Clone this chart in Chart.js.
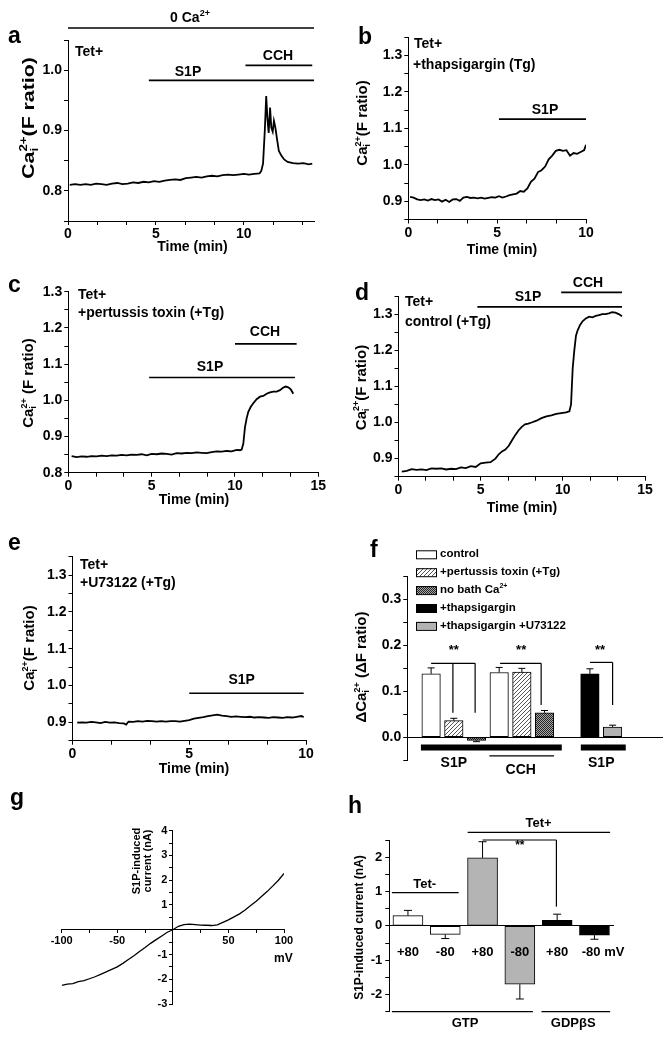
<!DOCTYPE html>
<html>
<head>
<meta charset="utf-8">
<title>S1P calcium and current figure</title>
<script src="https://cdn.jsdelivr.net/npm/chart.js@4.4.1/dist/chart.umd.min.js"></script>
<style>
  body { margin: 0; background: #fff; }
  #fig { position: relative; width: 664px; height: 1041px; overflow: hidden; background: #fff; }
  #fig canvas { position: absolute; }
</style>
</head>
<body>
<div id="fig"></div>
<script>
// ---------- values ----------

// a: Tet+, 0 Ca2+ bath, S1P then CCH
const timeA = [0.1, 0.4, 0.7, 1.0, 1.3, 1.6, 1.9, 2.2, 2.5, 2.8,
  3.1, 3.4, 3.7, 4.0, 4.3, 4.6, 4.9, 5.2, 5.5, 5.8,
  6.1, 6.4, 6.7, 7.0, 7.3, 7.6, 7.9, 8.2, 8.5, 8.8,
  9.1, 9.4, 9.7, 10.0, 10.3, 10.6, 10.9, 11.0, 11.1, 11.2,
  11.28, 11.35, 11.42, 11.5, 11.57, 11.65, 11.72, 11.8, 11.9, 12.0,
  12.15, 12.3, 12.5, 12.8, 13.1, 13.4, 13.7, 13.9];
const ratioA = [0.810, 0.811, 0.810, 0.811, 0.810, 0.812, 0.811, 0.810, 0.812, 0.813,
  0.811, 0.812, 0.814, 0.813, 0.815, 0.814, 0.816, 0.815, 0.817, 0.818,
  0.819, 0.818, 0.821, 0.822, 0.823, 0.822, 0.824, 0.825, 0.824, 0.826,
  0.827, 0.826, 0.827, 0.828, 0.827, 0.828, 0.829, 0.833, 0.845, 0.900,
  0.957, 0.920, 0.896, 0.938, 0.905, 0.898, 0.916, 0.905, 0.885, 0.866,
  0.858, 0.852, 0.848, 0.846, 0.845, 0.846, 0.844, 0.845];

// b: Tet+, thapsigargin, S1P
const timeB = [0.1, 0.3, 0.5, 0.7, 0.9, 1.1, 1.3, 1.5, 1.7, 1.9,
  2.1, 2.3, 2.5, 2.7, 2.9, 3.1, 3.3, 3.5, 3.7, 3.9,
  4.1, 4.3, 4.5, 4.7, 4.9, 5.1, 5.3, 5.5, 5.7, 5.9,
  6.1, 6.3, 6.5, 6.7, 6.9, 7.1, 7.3, 7.5, 7.7, 7.9,
  8.1, 8.3, 8.5, 8.7, 8.9, 9.1, 9.3, 9.5, 9.7, 9.9, 10.0];
const ratioB = [0.912, 0.910, 0.905, 0.903, 0.905, 0.902, 0.906, 0.903, 0.905, 0.899,
  0.904, 0.898, 0.905, 0.906, 0.901, 0.910, 0.912, 0.909, 0.910, 0.908,
  0.910, 0.907, 0.909, 0.911, 0.910, 0.914, 0.910, 0.913, 0.917, 0.919,
  0.921, 0.928, 0.926, 0.935, 0.953, 0.962, 0.980, 0.985, 0.995, 1.015,
  1.025, 1.038, 1.041, 1.038, 1.040, 1.025, 1.032, 1.030, 1.035, 1.040, 1.055];

// c: Tet+, pertussis toxin (+Tg), S1P then CCH
const timeC = [0.2, 0.5, 0.8, 1.1, 1.4, 1.7, 2.0, 2.3, 2.6, 2.9,
  3.2, 3.5, 3.8, 4.1, 4.4, 4.7, 5.0, 5.3, 5.6, 5.9,
  6.2, 6.5, 6.8, 7.1, 7.4, 7.7, 8.0, 8.3, 8.6, 8.9,
  9.2, 9.5, 9.8, 10.1, 10.3, 10.4, 10.5, 10.6, 10.7, 10.8,
  10.95, 11.1, 11.3, 11.5, 11.7, 11.9, 12.1, 12.3, 12.5, 12.7,
  12.9, 13.05, 13.2, 13.35, 13.5];
const ratioC = [0.846, 0.843, 0.845, 0.844, 0.846, 0.845, 0.847, 0.846, 0.848, 0.847,
  0.849, 0.848, 0.850, 0.849, 0.851, 0.848, 0.852, 0.851, 0.853, 0.852,
  0.850, 0.854, 0.853, 0.855, 0.854, 0.856, 0.855, 0.854, 0.857, 0.859,
  0.858, 0.860, 0.859, 0.863, 0.862, 0.864, 0.880, 0.925, 0.950, 0.968,
  0.982, 0.992, 1.003, 1.010, 1.012, 1.018, 1.022, 1.024, 1.024, 1.028,
  1.035, 1.038, 1.036, 1.030, 1.018];

// d: Tet+, control (+Tg), S1P then CCH
const timeD = [0.2, 0.5, 0.8, 1.1, 1.4, 1.7, 2.0, 2.3, 2.6, 2.9,
  3.2, 3.5, 3.8, 4.1, 4.4, 4.7, 5.0, 5.3, 5.6, 5.9,
  6.1, 6.3, 6.5, 6.7, 6.9, 7.1, 7.3, 7.5, 7.7, 7.9,
  8.1, 8.4, 8.7, 9.0, 9.3, 9.6, 9.9, 10.2, 10.4, 10.5,
  10.6, 10.7, 10.8, 10.9, 11.05, 11.2, 11.4, 11.6, 11.8, 12.0,
  12.2, 12.4, 12.6, 12.8, 13.0, 13.2, 13.4, 13.6];
const ratioD = [0.864, 0.866, 0.871, 0.869, 0.870, 0.868, 0.873, 0.872, 0.873, 0.870,
  0.872, 0.871, 0.876, 0.874, 0.879, 0.877, 0.887, 0.889, 0.890, 0.900,
  0.912, 0.920, 0.925, 0.935, 0.950, 0.965, 0.978, 0.988, 0.995, 0.997,
  1.000, 1.005, 1.012, 1.017, 1.020, 1.024, 1.026, 1.028, 1.031, 1.050,
  1.150, 1.200, 1.240, 1.255, 1.270, 1.280, 1.288, 1.293, 1.291, 1.295,
  1.297, 1.300, 1.300, 1.302, 1.305, 1.304, 1.300, 1.294];

// e: Tet+, U73122 (+Tg), S1P
const timeE = [0.2, 0.4, 0.6, 0.8, 1.0, 1.2, 1.4, 1.6, 1.8, 2.0,
  2.2, 2.3, 2.4, 2.6, 2.8, 3.0, 3.2, 3.4, 3.6, 3.8,
  4.0, 4.2, 4.4, 4.6, 4.8, 5.0, 5.2, 5.4, 5.6, 5.8,
  6.0, 6.2, 6.4, 6.6, 6.8, 7.0, 7.2, 7.4, 7.6, 7.8,
  8.0, 8.2, 8.4, 8.6, 8.8, 9.0, 9.2, 9.4, 9.6, 9.8, 9.9];
const ratioE = [0.899, 0.900, 0.899, 0.901, 0.900, 0.898, 0.901, 0.899, 0.900, 0.898,
  0.897, 0.894, 0.902, 0.901, 0.903, 0.902, 0.904, 0.903, 0.902, 0.903,
  0.902, 0.903, 0.903, 0.902, 0.904, 0.906, 0.910, 0.912, 0.914, 0.917,
  0.919, 0.921, 0.918, 0.917, 0.915, 0.916, 0.915, 0.914, 0.915, 0.913,
  0.914, 0.913, 0.912, 0.914, 0.913, 0.912, 0.914, 0.913, 0.915, 0.917, 0.914];

// f: mean delta ratio with error, by group
const fGroups = ['control', '+pertussis toxin (+Tg)', 'no bath Ca2+', '+thapsigargin', '+thapsigargin +U73122'];
const fSlot = [0, 1, 2, 3, 4, 5, 7, 8];
const fGroupOf = [0, 1, 2, 0, 1, 2, 3, 4];
const fMean = [0.138, 0.036, -0.007, 0.141, 0.142, 0.053, 0.138, 0.022];
const fErr = [0.013, 0.005, 0.003, 0.011, 0.008, 0.005, 0.011, 0.004];

// g: S1P-induced current vs voltage
const mvG = [-100, -95, -90, -85, -80, -75, -70, -65, -60, -55,
  -50, -45, -40, -35, -30, -25, -20, -15, -10, -5,
  0, 5, 10, 15, 20, 25, 30, 35, 40, 45,
  50, 55, 60, 65, 70, 75, 80, 85, 90, 95, 100];
const nAG = [-2.25, -2.20, -2.18, -2.10, -2.06, -1.98, -1.90, -1.80, -1.70, -1.60,
  -1.50, -1.36, -1.20, -1.05, -0.88, -0.72, -0.55, -0.40, -0.25, -0.10,
  0.00, 0.14, 0.21, 0.23, 0.21, 0.19, 0.18, 0.17, 0.20, 0.30,
  0.40, 0.52, 0.64, 0.80, 0.98, 1.15, 1.35, 1.55, 1.77, 2.00, 2.27];

// h: S1P-induced current at +80 / -80 mV
const hLabels = ['+80', '-80', '+80', '-80', '+80', '-80 mV'];
const hGroupOf = [0, 0, 1, 1, 2, 2];
const hMean = [0.30, -0.25, 1.98, -1.70, 0.16, -0.27];
const hErr = [0.15, 0.12, 0.47, 0.43, 0.18, 0.12];

// ---------- drawing helpers ----------
const FONT = '"Liberation Sans", Arial, sans-serif';
Chart.defaults.font.family = FONT;
Chart.defaults.color = '#000';
const tickFont = { family: FONT, size: 14, weight: 'bold' };
const caTitle = [['Ca'], ['2+', 'sup'], ['i', 'sub'], ['(F ratio)']];

function range(a, b, step) {
  const out = [];
  for (let i = 0; a + i * step <= b + 1e-9; i++) out.push(+(a + i * step).toFixed(6));
  return out;
}
const oneDecimal = v => Math.abs(v * 10 - Math.round(v * 10)) < 1e-6 ? v.toFixed(1) : '';
const every5 = v => Math.abs(v / 5 - Math.round(v / 5)) < 1e-6 ? String(Math.round(v)) : '';
const integers = v => Math.abs(v - Math.round(v)) < 1e-6 ? String(Math.round(v)) : '';

function addCanvas([x, y, w, h]) {
  const cv = document.createElement('canvas');
  cv.width = w; cv.height = h;
  cv.style.left = x + 'px'; cv.style.top = y + 'px';
  cv.style.width = w + 'px'; cv.style.height = h + 'px';
  document.getElementById('fig').appendChild(cv);
  return cv;
}

function axis(o) {
  const a = {
    type: 'linear', min: o.min, max: o.max, offset: false,
    afterBuildTicks: s => { s.ticks = range(o.min, o.max, o.step).map(v => ({ value: v })); },
    ticks: { callback: o.label, font: o.font, padding: o.pad ?? 2, autoSkip: false, maxRotation: 0, color: '#000' },
    grid: { drawOnChartArea: false, tickLength: o.tl ?? 4, color: '#000', lineWidth: 1, offset: false },
    border: { color: '#000', width: 1 }
  };
  if (o.position) a.position = o.position;
  if (o.fit) a.afterFit = o.fit;
  return a;
}

function seg(ctx, x0, y0, x1, y1, lw) {
  ctx.save();
  ctx.strokeStyle = '#000'; ctx.lineWidth = lw || 1.5; ctx.lineCap = 'butt';
  ctx.beginPath(); ctx.moveTo(x0, y0); ctx.lineTo(x1, y1); ctx.stroke();
  ctx.restore();
}
function dataLine(c, x0, y0, x1, y1, lw) {
  const xs = c.scales.x, ys = c.scales.y;
  seg(c.ctx, xs.getPixelForValue(x0), ys.getPixelForValue(y0), xs.getPixelForValue(x1), ys.getPixelForValue(y1), lw);
}

// text with superscripts ('sup') and subscripts ('sub', stacked under a preceding sup)
function rich(ctx, parts, x, y, size, align, weight) {
  if (typeof parts === 'string') parts = [[parts]];
  const w8 = weight || 'bold';
  const small = Math.round(size * 0.62);
  const fontOf = k => `${w8} ${k ? small : size}px ${FONT}`;
  const laid = [];
  let cx = 0;
  parts.forEach(([s, k]) => {
    ctx.font = fontOf(k);
    const mw = ctx.measureText(s).width;
    const prev = laid[laid.length - 1];
    if (k === 'sub' && prev && prev.k === 'sup') {
      laid.push({ s, k, x: prev.x });
      cx = Math.max(cx, prev.x + mw);
    } else {
      laid.push({ s, k, x: cx });
      cx += mw;
    }
  });
  const x0 = align === 'center' ? x - cx / 2 : align === 'right' ? x - cx : x;
  ctx.save();
  ctx.fillStyle = '#000'; ctx.textAlign = 'left'; ctx.textBaseline = 'middle';
  laid.forEach(p => {
    ctx.font = fontOf(p.k);
    const dy = p.k === 'sup' ? -size * 0.33 : p.k === 'sub' ? size * 0.32 : 0;
    ctx.fillText(p.s, x0 + p.x, y + dy);
  });
  ctx.restore();
}
function pageText(c, parts, px, py, size, align, weight) {
  rich(c.ctx, parts, px - c.canvas.offsetLeft, py - c.canvas.offsetTop, size, align || 'left', weight);
}
function yTitle(c, parts, px, py, size, stretch) {
  const ctx = c.ctx;
  ctx.save();
  ctx.translate(px - c.canvas.offsetLeft, py - c.canvas.offsetTop);
  ctx.rotate(-Math.PI / 2);
  ctx.scale(stretch || 1, 1);
  rich(ctx, parts, 0, 0, size, 'center');
  ctx.restore();
}
function letter(c, s, px, py) {
  const ctx = c.ctx;
  ctx.save();
  ctx.font = `bold 23px ${FONT}`; ctx.fillStyle = '#000';
  ctx.textAlign = 'left'; ctx.textBaseline = 'alphabetic';
  ctx.fillText(s, px - c.canvas.offsetLeft, py - c.canvas.offsetTop);
  ctx.restore();
}
function errorBars(c, means, errs, cap, lw) {
  const ys = c.scales.y;
  c.getDatasetMeta(0).data.forEach((bar, i) => {
    const m = means[i];
    const tip = m < 0 ? m - errs[i] : m + errs[i];
    const y0 = ys.getPixelForValue(m), y1 = ys.getPixelForValue(tip);
    seg(c.ctx, bar.x, y0, bar.x, y1, lw);
    seg(c.ctx, bar.x - cap, y1, bar.x + cap, y1, lw);
  });
}

// fills for the bar panels
function pixelPattern(size, paint) {
  const pc = document.createElement('canvas');
  pc.width = size; pc.height = size;
  const g = pc.getContext('2d');
  paint(g);
  return g.createPattern(pc, 'repeat');
}
const hatch = pixelPattern(4, g => {
  g.fillStyle = '#fff'; g.fillRect(0, 0, 4, 4);
  g.fillStyle = '#555';
  for (let i = 0; i < 4; i++) g.fillRect(i, 3 - i, 1, 1);
});
const checker = pixelPattern(4, g => {
  g.fillStyle = '#a8a8a8'; g.fillRect(0, 0, 4, 4);
  g.fillStyle = '#222';
  for (let i = 0; i < 4; i++) for (let j = 0; j < 4; j++) if ((i + j) % 2 === 0) g.fillRect(i, j, 1, 1);
});
const fFill = ['#ffffff', hatch, checker, '#000000', '#b2b2b2'];
const hFill = ['#ffffff', '#b4b4b4', '#000000'];

// ---------- calcium trace panels a-e ----------
function tracePanel(box, area, xs, ys, xMax, yMin, yMax, drawExtras) {
  const [bx, by, bw, bh] = box;
  const [L, T, R, B] = area;
  return new Chart(addCanvas(box), {
    type: 'line',
    data: { datasets: [{ data: xs.map((x, i) => ({ x, y: ys[i] })), borderColor: '#000', borderWidth: 1.8, pointRadius: 0, tension: 0 }] },
    options: {
      responsive: false, animation: false, devicePixelRatio: 1,
      layout: { padding: { left: 0, top: T - by, right: bx + bw - R, bottom: 0 } },
      plugins: { legend: { display: false }, tooltip: { enabled: false } },
      scales: {
        x: axis({ min: 0, max: xMax, step: 5 / 3, label: every5, font: tickFont, pad: 1, fit: s => { s.height = by + bh - B; } }),
        y: axis({ min: yMin, max: yMax, step: 0.05, label: oneDecimal, font: tickFont, pad: 2, fit: s => { s.width = L - bx; } })
      }
    },
    plugins: [{ id: 'extras', afterDraw: drawExtras }]
  });
}

tracePanel([0, 0, 332, 262], [68, 40, 314, 221], timeA, ratioA, 14, 0.75, 1.05, c => {
  letter(c, 'a', 8, 43);
  pageText(c, [['0 Ca'], ['2+', 'sup']], 190, 18, 14, 'center');
  dataLine(c, 0, 1.07, 14, 1.07, 1.6);
  pageText(c, 'Tet+', 75, 52, 14);
  dataLine(c, 10.1, 1.008, 13.9, 1.008, 1.6);
  pageText(c, 'CCH', 278, 56, 14, 'center');
  dataLine(c, 4.6, 0.983, 14, 0.983, 1.6);
  pageText(c, 'S1P', 188, 72.5, 14, 'center');
  yTitle(c, caTitle, 30, 118, 16, 1.33);
  pageText(c, 'Time (min)', 192.5, 247.5, 14, 'center');
});

tracePanel([332, 0, 332, 262], [408.3, 37, 586, 219.5], timeB, ratioB, 10, 0.85, 1.35, c => {
  letter(c, 'b', 358, 44);
  pageText(c, 'Tet+', 414, 44, 14);
  pageText(c, '+thapsigargin (Tg)', 413, 65, 14);
  dataLine(c, 5.1, 1.125, 10, 1.125, 1.6);
  pageText(c, 'S1P', 545, 110, 14, 'center');
  yTitle(c, caTitle, 363, 123, 15, 1);
  pageText(c, 'Time (min)', 502, 250, 14, 'center');
});

tracePanel([0, 262, 332, 254], [68.3, 291.7, 318.3, 472.7], timeC, ratioC, 15, 0.8, 1.3, c => {
  letter(c, 'c', 8, 292);
  pageText(c, 'Tet+', 78, 295, 14);
  pageText(c, '+pertussis toxin (+Tg)', 78, 313.3, 14);
  dataLine(c, 10, 1.156, 13.7, 1.156, 1.6);
  pageText(c, 'CCH', 265, 331.7, 14, 'center');
  dataLine(c, 4.85, 1.063, 13.6, 1.063, 1.6);
  pageText(c, 'S1P', 210, 366.7, 14, 'center');
  yTitle(c, [['Ca'], ['2+', 'sup'], ['i', 'sub'], [' (F ratio)']], 29, 383, 15, 1);
  pageText(c, 'Time (min)', 194, 500, 14, 'center');
});

tracePanel([332, 262, 332, 254], [398.5, 296, 645, 476.7], timeD, ratioD, 15, 0.85, 1.35, c => {
  letter(c, 'd', 355, 300);
  pageText(c, 'Tet+', 405, 301.7, 14);
  pageText(c, 'control (+Tg)', 405, 321.7, 14);
  dataLine(c, 4.8, 1.32, 13.6, 1.32, 1.6);
  pageText(c, 'S1P', 528, 297, 14, 'center');
  dataLine(c, 9.9, 1.36, 13.6, 1.36, 1.6);
  pageText(c, 'CCH', 588, 283, 14, 'center');
  yTitle(c, caTitle, 361.5, 387.5, 15, 1);
  pageText(c, 'Time (min)', 522, 508, 14, 'center');
});

tracePanel([0, 516, 332, 269], [72.5, 556.7, 306, 740.7], timeE, ratioE, 10, 0.85, 1.35, c => {
  letter(c, 'e', 8, 550);
  pageText(c, 'Tet+', 80, 565, 14);
  pageText(c, '+U73122 (+Tg)', 80, 583, 14);
  dataLine(c, 5.0, 0.979, 9.9, 0.979, 1.6);
  pageText(c, 'S1P', 241.7, 680, 14, 'center');
  yTitle(c, caTitle, 30, 648, 15, 1);
  pageText(c, 'Time (min)', 194, 769, 14, 'center');
});

// ---------- f: summary bars ----------
(function () {
  const box = [332, 516, 332, 269], [L, T, R, B] = [407.3, 576.7, 662.5, 760];
  new Chart(addCanvas(box), {
    type: 'bar',
    data: { datasets: [{
      data: fSlot.map((x, i) => ({ x, y: fMean[i] })),
      backgroundColor: fGroupOf.map(g => fFill[g]),
      borderColor: '#000', borderWidth: 1, borderSkipped: false, barThickness: 18.5
    }] },
    options: {
      responsive: false, animation: false, devicePixelRatio: 1,
      layout: { padding: { left: 0, top: T - box[1], right: box[0] + box[2] - R, bottom: box[1] + box[3] - B } },
      plugins: { legend: { display: false }, tooltip: { enabled: false } },
      scales: {
        x: { type: 'linear', min: -1.05, max: 10.2, offset: false, position: { y: 0 },
          ticks: { display: false }, grid: { drawOnChartArea: false, drawTicks: false }, border: { color: '#000', width: 1 } },
        y: axis({ min: -0.05, max: 0.35, step: 0.05, label: oneDecimal, font: tickFont, pad: 2, fit: s => { s.width = L - box[0]; } })
      }
    },
    plugins: [{ id: 'extras', afterDraw: c => {
      const ctx = c.ctx, ox = c.canvas.offsetLeft, oy = c.canvas.offsetTop;
      errorBars(c, fMean, fErr, 3.5, 1);
      letter(c, 'f', 370, 557);
      // legend
      fGroups.forEach((name, i) => {
        const y = 554.3 + i * 17.9 - oy, x = 416 - ox;
        ctx.save();
        ctx.fillStyle = fFill[i]; ctx.fillRect(x, y - 4, 20, 8);
        ctx.strokeStyle = '#000'; ctx.lineWidth = 1; ctx.strokeRect(x + 0.5, y - 3.5, 20, 8);
        ctx.restore();
        const parts = name.endsWith('2+') ? [[name.slice(0, -2)], ['2+', 'sup']] : [[name]];
        rich(ctx, parts, 440 - ox, y, 11.5, 'left');
      });
      // significance brackets
      dataLine(c, 0, 0.161, 1.94, 0.161, 1.2);
      dataLine(c, 0.96, 0.161, 0.96, 0.053, 1.2);
      dataLine(c, 1.94, 0.161, 1.94, 0.053, 1.2);
      dataLine(c, 3.04, 0.161, 4.85, 0.161, 1.2);
      dataLine(c, 4.85, 0.161, 4.85, 0.07, 1.2);
      dataLine(c, 7, 0.163, 8, 0.163, 1.2);
      dataLine(c, 8, 0.163, 8, 0.07, 1.2);
      const xs = c.scales.x;
      [1, 3.97, 7.45].forEach(s => rich(ctx, '**', xs.getPixelForValue(s), 650.7 - oy, 13, 'center'));
      // stimulus bars under the axis
      dataLine(c, -0.45, -0.0228, 5.76, -0.0228, 6);
      dataLine(c, 6.6, -0.0228, 8.58, -0.0228, 6);
      dataLine(c, 2.57, -0.041, 5.42, -0.041, 1.2);
      rich(ctx, 'S1P', xs.getPixelForValue(1), 762.7 - oy, 14, 'center');
      rich(ctx, 'CCH', xs.getPixelForValue(3.95), 770 - oy, 14, 'center');
      rich(ctx, 'S1P', xs.getPixelForValue(7.5), 762.7 - oy, 14, 'center');
      yTitle(c, [['\u0394Ca'], ['2+', 'sup'], ['i', 'sub'], [' (\u0394F ratio)']], 362, 667, 15, 1);
    } }]
  });
})();

// ---------- g: current-voltage relation ----------
(function () {
  const box = [0, 785, 332, 256], [L, T, R, B] = [61.7, 830.7, 284, 1004];
  const gFont = { family: FONT, size: 11, weight: 'bold' };
  new Chart(addCanvas(box), {
    type: 'line',
    data: { datasets: [{ data: mvG.map((x, i) => ({ x, y: nAG[i] })), borderColor: '#000', borderWidth: 1.3, pointRadius: 0, tension: 0 }] },
    options: {
      responsive: false, animation: false, devicePixelRatio: 1,
      layout: { padding: { left: L - box[0], top: T - box[1], right: box[0] + box[2] - R, bottom: box[1] + box[3] - B } },
      plugins: { legend: { display: false }, tooltip: { enabled: false } },
      scales: {
        x: axis({ min: -100, max: 100, step: 25, position: { y: 0 }, label: v => (v % 50 === 0 && v !== 0) ? String(v) : '', font: gFont, tl: 3, pad: 2 }),
        // labels of an axis crossing the plot sit flush on the line, so pad them with an en space
        y: axis({ min: -3, max: 4, step: 0.5, position: { x: 0 }, label: v => (Number.isInteger(v) && v !== 0) ? v + '\u2002' : '', font: gFont, tl: 3, pad: 2 })
      }
    },
    plugins: [{ id: 'extras', afterDraw: c => {
      letter(c, 'g', 10, 805);
      yTitle(c, 'S1P-induced', 136.7, 861, 11, 1);
      yTitle(c, 'current (nA)', 148.3, 861, 11, 1);
      pageText(c, 'mV', 283.3, 958.3, 12, 'center');
    } }]
  });
})();

// ---------- h: current at +80 / -80 mV ----------
(function () {
  const box = [332, 785, 332, 256], [L, T, R, B] = [389.3, 840, 613.1, 1011.7];
  new Chart(addCanvas(box), {
    type: 'bar',
    data: { datasets: [{
      data: hMean.map((y, i) => ({ x: i, y })),
      backgroundColor: hGroupOf.map(g => hFill[g]),
      borderColor: '#000', borderWidth: 1, borderSkipped: false, barThickness: 30
    }] },
    options: {
      responsive: false, animation: false, devicePixelRatio: 1,
      layout: { padding: { left: 0, top: T - box[1], right: box[0] + box[2] - R, bottom: box[1] + box[3] - B } },
      plugins: { legend: { display: false }, tooltip: { enabled: false } },
      scales: {
        x: { type: 'linear', min: -0.5, max: 5.5, offset: false, position: { y: 0 },
          ticks: { display: false }, grid: { drawOnChartArea: false, drawTicks: false }, border: { color: '#000', width: 1 } },
        y: axis({ min: -2.5, max: 2.5, step: 0.5, label: integers, font: { family: FONT, size: 13, weight: 'bold' }, pad: 3, fit: s => { s.width = L - box[0]; } })
      }
    },
    plugins: [{ id: 'extras', afterDraw: c => {
      const ctx = c.ctx, oy = c.canvas.offsetTop, xs = c.scales.x, ys = c.scales.y;
      errorBars(c, hMean, hErr, 4, 1);
      letter(c, 'h', 348, 813);
      hLabels.forEach((s, i) => {
        const last = i === hLabels.length - 1;
        rich(ctx, s, last ? xs.getPixelForValue(4.66) : xs.getPixelForValue(i), ys.getPixelForValue(-0.78), 13, last ? 'left' : 'center');
      });
      dataLine(c, -0.43, 0.97, 1.36, 0.97, 1.2);
      rich(ctx, 'Tet-', xs.getPixelForValue(0.45), ys.getPixelForValue(1.22), 13, 'center');
      dataLine(c, 1.6, 2.72, 5.42, 2.72, 1.2);
      rich(ctx, 'Tet+', xs.getPixelForValue(3.5), ys.getPixelForValue(2.99), 13, 'center');
      dataLine(c, 2, 2.5, 3.98, 2.5, 1.2);
      dataLine(c, 3.98, 2.5, 3.98, 0.56, 1.2);
      rich(ctx, '**', xs.getPixelForValue(3.0), ys.getPixelForValue(2.32), 12, 'center');
      dataLine(c, -0.43, -2.5, 3.35, -2.5, 1.2);
      dataLine(c, 3.58, -2.5, 5.42, -2.5, 1.2);
      rich(ctx, 'GTP', xs.getPixelForValue(1.53), 1023.3 - oy, 13, 'center');
      rich(ctx, 'GDP\u03B2S', xs.getPixelForValue(4.43), 1023.3 - oy, 13, 'center');
      yTitle(c, 'S1P-induced current (nA)', 359.3, 927.5, 12, 1);
    } }]
  });
})();
</script>
</body>
</html>
